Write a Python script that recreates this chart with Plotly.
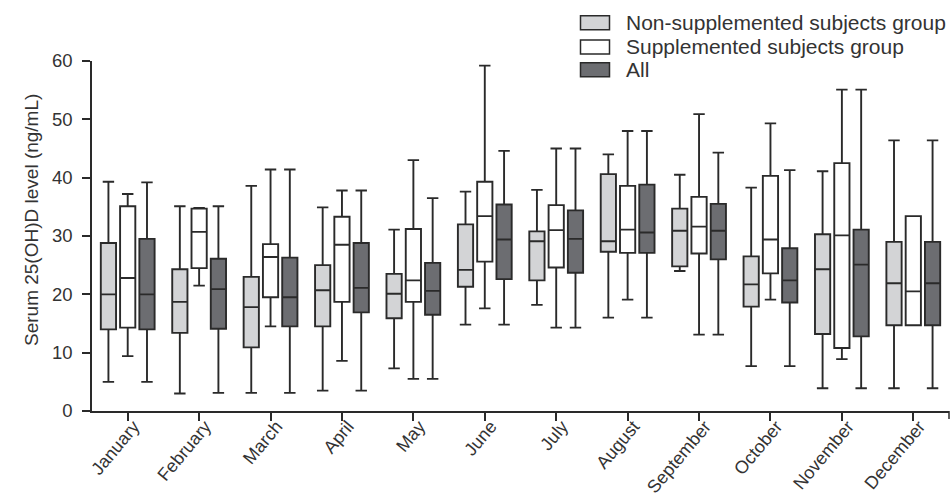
import plotly.graph_objects as go

months = ["January", "February", "March", "April", "May", "June", "July",
          "August", "September", "October", "November", "December"]

group_names = ["Non-supplemented subjects group", "Supplemented subjects group", "All"]

# Non-supplemented subjects group
non_min = [5.0, 3.0, 3.1, 3.5, 7.3, 14.8, 18.2, 16.0, 24.0, 7.7, 3.9, 3.9]
non_q1 = [14.0, 13.4, 10.9, 14.5, 15.9, 21.3, 22.4, 27.3, 24.8, 17.9, 13.2, 14.7]
non_med = [20.0, 18.7, 17.8, 20.7, 20.1, 24.2, 29.1, 29.1, 30.9, 21.7, 24.3, 21.9]
non_q3 = [28.8, 24.3, 23.0, 25.0, 23.5, 32.0, 30.8, 40.6, 34.7, 26.5, 30.3, 29.0]
non_max = [39.3, 35.1, 38.6, 34.9, 31.1, 37.6, 37.9, 44.0, 40.5, 38.3, 41.1, 46.4]

# Supplemented subjects group
sup_min = [9.4, 21.5, 14.5, 8.6, 5.5, 17.6, 14.3, 19.1, 13.1, 19.1, 8.9, 14.7]
sup_q1 = [14.3, 24.5, 19.5, 18.7, 18.7, 25.6, 24.6, 27.1, 27.0, 23.6, 10.8, 14.7]
sup_med = [22.8, 30.7, 26.4, 28.5, 22.4, 33.4, 31.0, 31.1, 31.6, 29.4, 30.1, 20.5]
sup_q3 = [35.1, 34.7, 28.6, 33.3, 31.2, 39.3, 35.3, 38.6, 36.7, 40.3, 42.5, 33.4]
sup_max = [37.2, 34.8, 41.4, 37.8, 43.0, 59.2, 45.0, 48.0, 50.9, 49.3, 55.1, 33.4]

# All
all_min = [5.0, 3.1, 3.1, 3.5, 5.5, 14.8, 14.3, 16.0, 13.1, 7.7, 3.9, 3.9]
all_q1 = [14.0, 14.1, 14.5, 16.9, 16.5, 22.6, 23.7, 27.1, 26.0, 18.6, 12.8, 14.7]
all_med = [20.0, 20.9, 19.5, 21.1, 20.6, 29.4, 29.5, 30.6, 30.9, 22.4, 25.1, 21.9]
all_q3 = [29.5, 26.1, 26.3, 28.8, 25.4, 35.4, 34.4, 38.8, 35.5, 27.9, 31.1, 29.0]
all_max = [39.2, 35.1, 41.4, 37.8, 36.5, 44.6, 45.0, 48.0, 44.3, 41.3, 55.1, 46.4]

y_ticks = [0, 10, 20, 30, 40, 50, 60]
y_title = "Serum 25(OH)D level (ng/mL)"

fills = ["#d3d4d6", "#ffffff", "#6c6d71"]
line_col = "#2a2a2a"
text_col = "#333333"
font_family = "Liberation Sans, Arial, sans-serif"

stats = [
    (non_min, non_q1, non_med, non_q3, non_max),
    (sup_min, sup_q1, sup_med, sup_q3, sup_max),
    (all_min, all_q1, all_med, all_q3, all_max),
]

fig = go.Figure()
for name, fill, (mn, q1, md, q3, mx) in zip(group_names, fills, stats):
    fig.add_trace(go.Box(
        name=name,
        x=months,
        lowerfence=mn,
        q1=q1,
        median=md,
        q3=q3,
        upperfence=mx,
        fillcolor=fill,
        line=dict(color=line_col, width=1.9),
        whiskerwidth=0.75,
        boxpoints=False,
        showlegend=False,
    ))

# pixel -> paper helpers for the layout furniture
L, R, T, B = 92, 3, 61, 91
W = 952 - L - R
H = 502 - T - B

def px_x(p):
    return (p - L) / W

def px_y(p):
    return (502 - B - p) / H

# Manual legend (swatches + real text)
row_centers = [22.7, 47.0, 69.7]
for name, fill, yc in zip(group_names, fills, row_centers):
    fig.add_shape(type="rect", xref="paper", yref="paper",
                  x0=px_x(580.5), x1=px_x(609.5),
                  y0=px_y(yc + 7), y1=px_y(yc - 7),
                  fillcolor=fill, line=dict(color=line_col, width=1.5))
    fig.add_annotation(xref="paper", yref="paper", x=px_x(624), y=px_y(yc),
                       xanchor="left", yanchor="middle", showarrow=False,
                       text=name, font=dict(size=21, color=text_col, family=font_family))

# y-axis title
fig.add_annotation(xref="paper", yref="paper", x=px_x(31), y=px_y(220),
                   xanchor="center", yanchor="middle", showarrow=False,
                   textangle=-90, text=y_title,
                   font=dict(size=19, color=text_col, family=font_family))

# end tick at the right end of the x axis
fig.add_shape(type="line", xref="paper", yref="paper",
              x0=1, x1=1, y0=0, y1=-8 / H,
              line=dict(color=line_col, width=1.5))

fig.update_layout(
    template="none",
    width=952, height=502,
    margin=dict(l=L, r=R, t=T, b=B, pad=0, autoexpand=False),
    paper_bgcolor="white", plot_bgcolor="white",
    boxmode="group", boxgap=0.19, boxgroupgap=0.21,
    font=dict(family=font_family, color=text_col),
    xaxis=dict(
        type="category", categoryorder="array", categoryarray=months,
        range=[-0.5, 11.5], automargin=False,
        showline=True, linecolor=line_col, linewidth=1.5,
        ticks="outside", ticklen=8, tickwidth=1.5, tickcolor=line_col,
        tickangle=-50, tickfont=dict(size=18, color=text_col),
        ticklabelstandoff=-12, ticklabelshift=6,
        showgrid=False, zeroline=False,
    ),
    yaxis=dict(
        range=[0, 60], tickvals=y_ticks, automargin=False,
        showline=True, linecolor=line_col, linewidth=1.5,
        ticks="outside", ticklen=8, tickwidth=1.5, tickcolor=line_col,
        tickfont=dict(size=18.5, color=text_col), ticklabelstandoff=6,
        showgrid=False, zeroline=False,
    ),
)

fig.write_html(
    "out.html",
    config={"displayModeBar": False},
    post_script="document.body.style.margin='0px';document.body.style.overflow='hidden';",
)
